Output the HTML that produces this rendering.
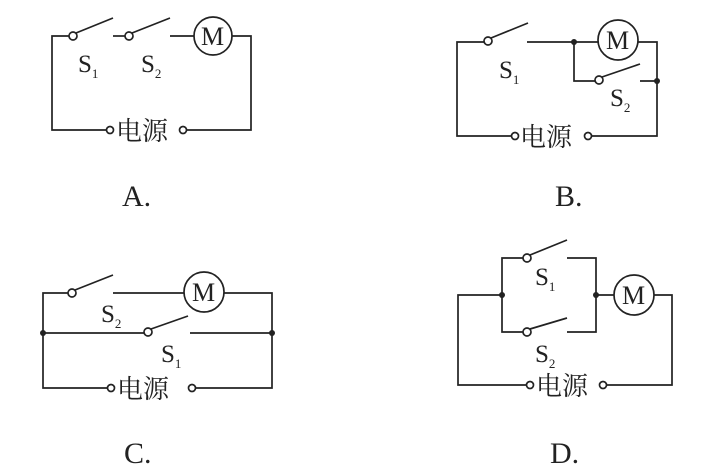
<!DOCTYPE html>
<html><head><meta charset="utf-8"><style>
html,body{margin:0;padding:0;background:#fff}
svg{display:block}
text{font-family:"Liberation Serif","Noto Serif CJK SC",serif;fill:#222}
.cn{font-family:"Liberation Serif","Noto Serif CJK SC",serif;font-size:26px}
</style></head><body>
<svg width="702" height="476" viewBox="0 0 702 476" xmlns="http://www.w3.org/2000/svg">
<g stroke="#222" stroke-width="1.7" fill="none">
<!-- A -->
<polyline points="69,36 52,36 52,130 106,130"/>
<circle cx="73" cy="36" r="4" fill="#fff"/>
<line x1="76" y1="33" x2="113" y2="18"/>
<line x1="113" y1="36" x2="125" y2="36"/>
<circle cx="129" cy="36" r="4" fill="#fff"/>
<line x1="132" y1="33" x2="170" y2="18"/>
<line x1="170" y1="36" x2="194" y2="36"/>
<circle cx="213" cy="36" r="19"/>
<polyline points="232,36 251,36 251,130 187,130"/>
<circle cx="110" cy="130" r="3.5" fill="#fff"/>
<circle cx="183" cy="130" r="3.5" fill="#fff"/>
<!-- B -->
<polyline points="484,42 457,42 457,136 511,136"/>
<circle cx="488" cy="41" r="4" fill="#fff"/>
<line x1="491" y1="38" x2="528" y2="23"/>
<line x1="527" y1="42" x2="598" y2="42"/>
<circle cx="618" cy="40" r="20"/>
<polyline points="638,42 657,42 657,136 592,136"/>
<polyline points="574,42 574,81 595,81"/>
<circle cx="599" cy="80" r="4" fill="#fff"/>
<line x1="602" y1="77" x2="640" y2="64"/>
<line x1="640" y1="81" x2="657" y2="81"/>
<circle cx="515" cy="136" r="3.5" fill="#fff"/>
<circle cx="588" cy="136" r="3.5" fill="#fff"/>
<!-- C -->
<polyline points="68,293 43,293 43,388 107,388"/>
<circle cx="72" cy="293" r="4" fill="#fff"/>
<line x1="75" y1="290" x2="113" y2="275"/>
<line x1="113" y1="293" x2="184" y2="293"/>
<circle cx="204" cy="292" r="20"/>
<polyline points="224,293 272,293 272,388 196,388"/>
<line x1="43" y1="333" x2="144" y2="333"/>
<circle cx="148" cy="332" r="4" fill="#fff"/>
<line x1="151" y1="329" x2="188" y2="316"/>
<line x1="190" y1="333" x2="272" y2="333"/>
<circle cx="111" cy="388" r="3.5" fill="#fff"/>
<circle cx="192" cy="388" r="3.5" fill="#fff"/>
<!-- D -->
<polyline points="502,295 458,295 458,385 526,385"/>
<polyline points="523,258 502,258 502,332 523,332"/>
<circle cx="527" cy="258" r="4" fill="#fff"/>
<line x1="530" y1="255" x2="567" y2="240"/>
<circle cx="527" cy="332" r="4" fill="#fff"/>
<line x1="530" y1="329" x2="567" y2="318"/>
<polyline points="567,258 596,258 596,332 567,332"/>
<line x1="596" y1="295" x2="614" y2="295"/>
<circle cx="634" cy="295" r="20"/>
<polyline points="654,295 672,295 672,385 607,385"/>
<circle cx="530" cy="385" r="3.5" fill="#fff"/>
<circle cx="603" cy="385" r="3.5" fill="#fff"/>
</g>
<g fill="#222">
<circle cx="574" cy="42" r="3"/><circle cx="657" cy="81" r="3"/>
<circle cx="43" cy="333" r="3"/><circle cx="272" cy="333" r="3"/>
<circle cx="502" cy="295" r="3"/><circle cx="596" cy="295" r="3"/>
</g>
<g font-size="26">
<text x="201" y="45">M</text><text x="606" y="49">M</text>
<text x="192" y="301">M</text><text x="622" y="304">M</text>
</g>
<g font-size="25">
<text x="78" y="72">S<tspan font-size="13" dy="6">1</tspan></text>
<text x="141" y="72">S<tspan font-size="13" dy="6">2</tspan></text>
<text x="499" y="78">S<tspan font-size="13" dy="6">1</tspan></text>
<text x="610" y="106">S<tspan font-size="13" dy="6">2</tspan></text>
<text x="101" y="322">S<tspan font-size="13" dy="6">2</tspan></text>
<text x="161" y="362">S<tspan font-size="13" dy="6">1</tspan></text>
<text x="535" y="285">S<tspan font-size="13" dy="6">1</tspan></text>
<text x="535" y="362">S<tspan font-size="13" dy="6">2</tspan></text>
</g>
<g class="cn">
<text x="116" y="140">电源</text>
<text x="520" y="146">电源</text>
<text x="117" y="398">电源</text>
<text x="536" y="395">电源</text>
</g>
<g font-size="30">
<text x="122" y="206">A.</text>
<text x="555" y="206">B.</text>
<text x="124" y="463">C.</text>
<text x="550" y="463">D.</text>
</g>
</svg>
</body></html>
